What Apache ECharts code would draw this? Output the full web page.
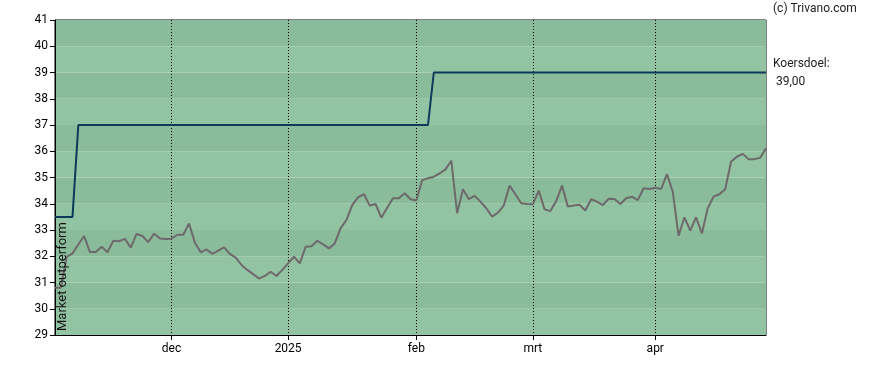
<!DOCTYPE html>
<html>
<head>
<meta charset="utf-8">
<script src="https://cdn.jsdelivr.net/npm/echarts@6/dist/echarts.min.js"></script>
<style>html,body{margin:0;padding:0;background:#fff}#c{width:888px;height:370px}</style>
</head>
<body>
<div id="c"></div>
<script>
// Trading days per month
const nov2024 = [4,5,6,7,8,11,12,13,14,15,18,19,20,21,22,25,26,27,28,29];
const dec2024 = [2,3,4,5,6,9,10,11,12,13,16,17,18,19,20,23,24,27,30,31];
const jan2025 = [2,3,6,7,8,9,10,13,14,15,16,17,20,21,22,23,24,27,28,29,30,31];
const feb2025 = [3,4,5,6,7,10,11,12,13,14,17,18,19,20,21,24,25,26,27,28];
const mar2025 = [3,4,5,6,7,10,11,12,13,14,17,18,19,20,21,24,25,26,27,28,31];
const apr2025 = [1,2,3,4,7,8,9,10,11,14,15,16,17,22,23,24,25,28,29,30];

const monthNames = ['jan','feb','mrt','apr','mei','jun','jul','aug','sep','okt','nov','dec'];

const price = [
  30.8,30.8,31.98,32.11,32.45,32.77,32.16,32.16,32.36,32.15,
  32.59,32.57,32.66,32.33,32.85,32.77,32.54,32.86,32.68,32.66,
  32.67,32.82,32.82,33.25,32.52,32.15,32.26,32.09,32.21,32.34,
  32.09,31.95,31.67,31.48,31.32,31.15,31.25,31.41,31.25,31.48,
  31.73,31.98,31.73,32.36,32.38,32.59,32.45,32.30,32.49,33.06,
  33.38,33.95,34.24,34.37,33.93,33.99,33.47,33.85,34.21,34.21,
  34.40,34.17,34.12,34.90,34.97,35.03,35.16,35.31,35.64,33.64,
  34.55,34.18,34.30,34.08,33.83,33.51,33.66,33.93,34.69,34.36,
  34.02,33.99,33.98,34.50,33.79,33.72,34.10,34.69,33.89,33.93,
  33.96,33.74,34.17,34.08,33.95,34.19,34.18,33.99,34.21,34.27,
  34.14,34.59,34.56,34.61,34.56,35.13,34.46,32.78,33.48,32.98,
  33.48,32.87,33.83,34.27,34.36,34.55,35.60,35.79,35.90,35.70,
  35.70,35.75,36.11
];

const target = [
  33.5,33.5,33.5,33.5,37,37,37,37,37,37,
  37,37,37,37,37,37,37,37,37,37,
  37,37,37,37,37,37,37,37,37,37,
  37,37,37,37,37,37,37,37,37,37,
  37,37,37,37,37,37,37,37,37,37,
  37,37,37,37,37,37,37,37,37,37,
  37,37,37,37,37,39,39,39,39,39,
  39,39,39,39,39,39,39,39,39,39,
  39,39,39,39,39,39,39,39,39,39,
  39,39,39,39,39,39,39,39,39,39,
  39,39,39,39,39,39,39,39,39,39,
  39,39,39,39,39,39,39,39,39,39,
  39,39,39
];

const yMin = 29, yMax = 41, yStep = 1;
const targetLabel = 'Koersdoel:\n 39,00';
const copyright = '(c) Trivano.com';
const sideText = 'Market outperform';

function pad(n){return n<10?'0'+n:''+n;}
const categories = [];
[[2024,11,nov2024],[2024,12,dec2024],[2025,1,jan2025],[2025,2,feb2025],[2025,3,mar2025],[2025,4,apr2025]]
  .forEach(([y,m,days])=>days.forEach(d=>categories.push(y+'-'+pad(m)+'-'+pad(d))));

function isMonthStart(i){
  if(i===0) return false;
  return categories[i].slice(0,7)!==categories[i-1].slice(0,7);
}
function monthLabel(v){
  const y = v.slice(0,4), m = parseInt(v.slice(5,7),10);
  return m===1 ? y : monthNames[m-1];
}

const font = 'Roboto, "Liberation Sans", Arial, sans-serif';
const chart = echarts.init(document.getElementById('c'), null, {renderer:'canvas'});
chart.setOption({
  animation:false,
  backgroundColor:'#fff',
  grid:{left:55,right:122,top:20,bottom:35,show:true,borderColor:'#000',borderWidth:1,backgroundColor:'transparent'},
  xAxis:{
    type:'category',
    data:categories,
    boundaryGap:false,
    axisLine:{show:true,lineStyle:{color:'#000',width:1}},
    axisTick:{show:true,length:5,lineStyle:{color:'#000'},interval:(i)=>isMonthStart(i)},
    axisLabel:{show:true,interval:(i)=>isMonthStart(i),formatter:(v)=>monthLabel(v),color:'#000',fontSize:12,fontFamily:font,margin:8},
    splitLine:{show:true,interval:(i)=>isMonthStart(i),lineStyle:{color:'#000',width:1,type:[1,2]}}
  },
  yAxis:{
    type:'value',min:yMin,max:yMax,interval:yStep,
    axisLine:{show:true,lineStyle:{color:'#000',width:1}},
    axisTick:{show:true,length:5,lineStyle:{color:'#000'}},
    axisLabel:{color:'#000',fontSize:12,fontFamily:font,margin:7},
    splitLine:{show:false},
    splitArea:{show:true,areaStyle:{color:['#92c3a2','#8abb9a']}}
  },
  graphic:[
    {type:'text',left:773,top:3,style:{text:copyright,fontSize:12,fontFamily:font,fill:'#222'}},
    {type:'text',x:63,y:331,rotation:Math.PI/2,z:100,style:{text:sideText,x:0,y:0,textAlign:'left',textVerticalAlign:'middle',fontSize:13,fontFamily:font,fill:'#111'}}
  ],
  series:[
    {type:'line',data:target,symbol:'none',z:3,lineStyle:{color:'#0d3a5a',width:2},
     endLabel:{show:true,formatter:targetLabel,distance:7,color:'#222',fontSize:12,fontFamily:font,lineHeight:18,align:'left'}},
    {type:'line',data:price,symbol:'none',z:4,lineStyle:{color:'#6e6a6c',width:2}}
  ]
});
</script>
</body>
</html>
